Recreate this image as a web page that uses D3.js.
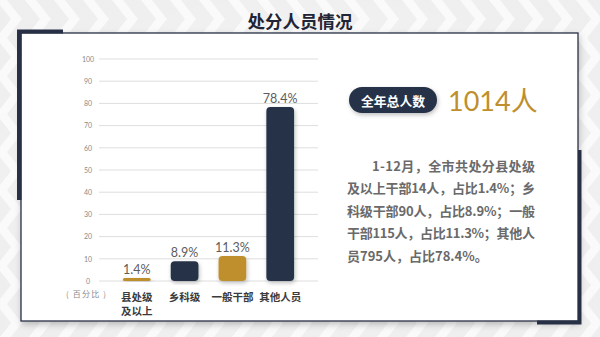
<!DOCTYPE html>
<html>
<head>
<meta charset="utf-8">
<script src="https://cdn.jsdelivr.net/npm/d3@7"></script>
<style>
  html, body { margin: 0; padding: 0; background: #ededed; }
  svg { display: block; }
</style>
</head>
<body>
<svg id="chart" width="600" height="337"></svg>
<script>
// ---- data ----
const categories = ["县处级及以上", "乡科级", "一般干部", "其他人员"];
const categoryLines = [["县处级", "及以上"], ["乡科级"], ["一般干部"], ["其他人员"]];
const shares = [1.4, 8.9, 11.3, 78.4];          // percent of all disciplined staff
const counts = [14, 90, 115, 795];              // head counts
const yTicks = [0, 10, 20, 30, 40, 50, 60, 70, 80, 90, 100];
const titleText = "处分人员情况";
const totalLabel = "全年总人数";
const unitLabel = "( 百分比 )";
const summaryLines = [
  "1-12月，全市共处分县处级",
  "及以上干部" + counts[0] + "人，占比" + shares[0] + "%；乡",
  "科级干部" + counts[1] + "人，占比" + shares[1] + "%；一般",
  "干部" + counts[2] + "人，占比" + shares[2] + "%；其他人",
  "员" + counts[3] + "人，占比" + shares[3] + "%。"
];

// ---- styles ----
const NAVY = "#283046";
const GOLD = "#bf8f2d";
const barColors = [GOLD, NAVY, GOLD, NAVY];
const CJK = "'Noto Sans CJK SC', 'Noto Sans', sans-serif";
const NUM = "Lato, 'Noto Sans CJK SC', sans-serif";

const svg = d3.select("#chart");
const W = 600, H = 337;
const defs = svg.append("defs");

// chevron background tile
const pat = defs.append("pattern")
  .attr("id", "chevrons").attr("patternUnits", "userSpaceOnUse")
  .attr("width", 29).attr("height", 38).attr("x", -4).attr("y", 0);
pat.append("rect").attr("width", 29).attr("height", 38).attr("fill", "#e9e9e9");
pat.append("polygon")
  .attr("points", "0,0 11,0 26,19 11,38 0,38 15,19")
  .attr("fill", "#f8f8f8");

const shadow = defs.append("filter").attr("id", "panelShadow")
  .attr("x", "-5%").attr("y", "-5%").attr("width", "110%").attr("height", "115%");
shadow.append("feDropShadow").attr("dx", 1).attr("dy", 3).attr("stdDeviation", 3)
  .attr("flood-color", "#000").attr("flood-opacity", 0.22);

const barShadow = defs.append("filter").attr("id", "barShadow")
  .attr("x", "-30%").attr("y", "-10%").attr("width", "160%").attr("height", "130%");
barShadow.append("feDropShadow").attr("dx", 1).attr("dy", 2).attr("stdDeviation", 2)
  .attr("flood-color", "#000").attr("flood-opacity", 0.25);

svg.append("rect").attr("width", W).attr("height", H).attr("fill", "url(#chevrons)");

// soft haze over the pattern
const haze = defs.append("radialGradient").attr("id", "haze")
  .attr("cx", "50%").attr("cy", "50%").attr("r", "60%");
haze.append("stop").attr("offset", "0%").attr("stop-color", "#fff").attr("stop-opacity", 0.55);
haze.append("stop").attr("offset", "100%").attr("stop-color", "#fff").attr("stop-opacity", 0.25);
svg.append("rect").attr("width", W).attr("height", H).attr("fill", "url(#haze)");

// title
svg.append("text")
  .attr("x", 300).attr("y", 28)
  .attr("text-anchor", "middle")
  .attr("font-family", CJK).attr("font-weight", 700).attr("font-size", 17.5)
  .attr("fill", "#1e2536")
  .text(titleText);

// panel
svg.append("rect")
  .attr("x", 21).attr("y", 33).attr("width", 557).attr("height", 288)
  .attr("fill", "#fff").attr("stroke", NAVY).attr("stroke-width", 1.3)
  .attr("filter", "url(#panelShadow)");

// corner brackets
svg.append("path").attr("fill", NAVY)
  .attr("d", "M17,29.5 H63 V33.5 H21.5 V200 H17 Z");
svg.append("path").attr("fill", NAVY)
  .attr("d", "M581.5,324.5 H537 V320.5 H578 V150 H581.5 Z");

// ---- bar chart ----
const x = d3.scaleBand().domain(categories).range([99, 318])
  .paddingInner(0.42).paddingOuter(0.5);
const y = d3.scaleLinear().domain([0, 100]).range([281, 59]);

const grid = svg.append("g");
grid.selectAll("line").data(yTicks).join("line")
  .attr("x1", x.range()[0]).attr("x2", x.range()[1])
  .attr("y1", d => y(d)).attr("y2", d => y(d))
  .attr("stroke", "#dedede").attr("stroke-width", 1);

const yAxis = svg.append("g")
  .attr("transform", "translate(93,0)")
  .call(d3.axisLeft(y).tickValues(yTicks).tickSize(0).tickPadding(0));
yAxis.select(".domain").remove();
yAxis.selectAll("text")
  .attr("x", -5).attr("text-anchor", "middle")
  .attr("font-family", NUM).attr("font-size", 7).attr("fill", "#8a8a8a");

svg.append("text")
  .attr("x", 66).attr("y", 297)
  .attr("textLength", 40).attr("lengthAdjust", "spacing")
  .attr("font-family", CJK).attr("font-size", 8).attr("fill", "#8a8a8a")
  .text(unitLabel);

const bars = svg.append("g");
bars.selectAll("rect").data(shares).join("rect")
  .attr("x", (d, i) => x(categories[i]))
  .attr("width", x.bandwidth())
  .attr("y", d => y(d))
  .attr("height", d => y(0) - y(d))
  .attr("rx", d => Math.min(4, (y(0) - y(d)) / 2))
  .attr("fill", (d, i) => barColors[i])
  .attr("filter", "url(#barShadow)");

svg.append("g").selectAll("text").data(shares).join("text")
  .attr("x", (d, i) => x(categories[i]) + x.bandwidth() / 2)
  .attr("y", d => y(d) - 4)
  .attr("text-anchor", "middle")
  .attr("font-family", NUM).attr("font-size", 12.5).attr("fill", "#5c5c5c")
  .text(d => d + "%");

// category labels, one text per line
const catG = svg.append("g")
  .attr("text-anchor", "middle")
  .attr("font-family", CJK).attr("font-weight", 700).attr("font-size", 10.5)
  .attr("fill", "#3b3b3b");
categoryLines.forEach((lines, i) => {
  lines.forEach((ln, j) => {
    catG.append("text")
      .attr("x", x(categories[i]) + x.bandwidth() / 2)
      .attr("y", 301 + j * 13.5)
      .text(ln);
  });
});

// ---- total badge ----
svg.append("rect")
  .attr("x", 349).attr("y", 87).attr("width", 88).attr("height", 26).attr("rx", 13)
  .attr("fill", NAVY).attr("filter", "url(#barShadow)");
svg.append("text")
  .attr("x", 393).attr("y", 100.5)
  .attr("text-anchor", "middle").attr("dominant-baseline", "central")
  .attr("font-family", CJK).attr("font-weight", 700).attr("font-size", 12.8)
  .attr("fill", "#fff")
  .text(totalLabel);

svg.append("text")
  .attr("x", 448).attr("y", 111)
  .attr("font-family", NUM).attr("font-size", 27).attr("fill", GOLD)
  .text(d3.sum(counts) + "人");

// ---- summary paragraph ----
const para = svg.append("g")
  .attr("font-family", CJK).attr("font-weight", 700).attr("font-size", 13)
  .attr("fill", "#6a6a6a");
summaryLines.forEach((ln, i) => {
  const x0 = i === 0 ? 372 : 347;
  const t = para.append("text")
    .attr("x", x0).attr("y", 171 + i * 22.4)
    .text(ln);
  if (i < summaryLines.length - 1) {
    t.attr("textLength", 535 - x0).attr("lengthAdjust", "spacing");
  }
});
</script>
</body>
</html>
